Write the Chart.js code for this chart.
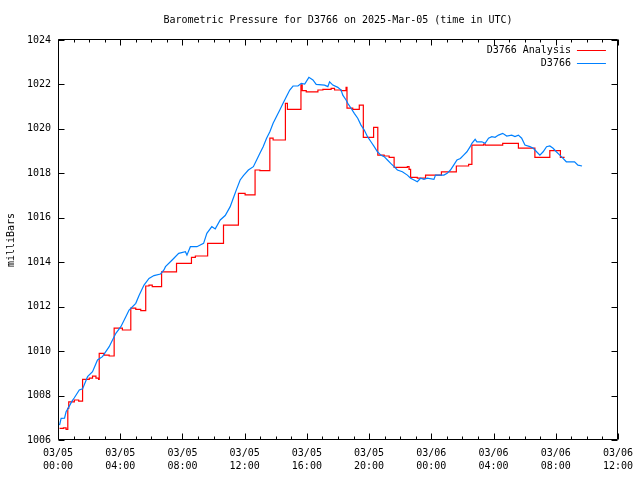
<!DOCTYPE html>
<html lang="en">
<head>
    <meta charset="UTF-8">
    <title>Barometric Pressure for D3766</title>
    <script src="https://cdn.jsdelivr.net/npm/chart.js"></script>
    <style>
        body { margin: 0; background: #fff; }
        #wrap { width: 640px; height: 480px; }
    </style>
</head>
<body>
    <div id="wrap"><canvas id="pressureChart" width="640" height="480"></canvas></div>

    <script>
        // hours since 03/05 00:00 UTC
        const analysisHours = [0.10, 0.35, 0.52, 0.63, 0.69, 1.05, 1.33, 1.58, 2.01, 2.22, 2.44, 2.61, 2.65, 2.97, 3.29, 3.61, 4.14,
            4.68, 5.00, 5.32, 5.64, 5.85, 6.06, 6.66, 7.62, 8.58, 8.83, 9.62, 10.64, 11.60, 12.03, 12.67, 12.98, 13.62, 13.83,
            14.62, 14.75, 15.62, 15.70, 15.96, 16.71, 17.03, 17.56, 17.78, 18.20, 18.52, 18.58, 18.95, 19.37, 19.63, 20.29,
            20.56, 20.97, 21.29, 21.61, 22.46, 22.57, 22.67, 23.10, 23.63, 24.65, 25.61, 26.40, 26.61, 27.36, 27.46, 28.59,
            29.60, 30.66, 31.62, 32.30, 32.57];
        const analysisValues = [1006.52, 1006.55, 1006.48, 1007.42, 1007.72, 1007.80, 1007.75, 1008.73, 1008.78, 1008.87, 1008.78, 1008.73, 1009.90, 1009.82, 1009.78, 1011.03, 1010.95,
            1011.93, 1011.88, 1011.82, 1012.93, 1012.97, 1012.90, 1013.57, 1013.95, 1014.22, 1014.28, 1014.85, 1015.67, 1017.10, 1017.03, 1018.15, 1018.12, 1019.58, 1019.50,
            1021.15, 1020.88, 1021.98, 1021.72, 1021.67, 1021.75, 1021.78, 1021.82, 1021.75, 1021.72, 1021.87, 1020.93, 1020.88, 1021.07, 1019.62, 1020.07,
            1018.82, 1018.78, 1018.72, 1018.27, 1018.30, 1018.18, 1017.82, 1017.78, 1017.92, 1018.07, 1018.33, 1018.40, 1019.27, 1019.32, 1019.27, 1019.35,
            1019.13, 1018.72, 1019.02, 1018.72, 1018.72];

        const stationHours = [0.10, 0.20, 0.42, 0.52, 0.63, 0.90, 1.05, 1.37, 1.58, 1.90, 2.22, 2.54, 2.86, 3.29, 3.72, 4.04, 4.36, 4.57,
            5.00, 5.21, 5.53, 5.85, 6.17, 6.59, 6.81, 6.91, 7.34, 7.76, 8.19, 8.29, 8.51, 8.93, 9.36, 9.57, 9.89, 10.11, 10.43,
            10.75, 11.07, 11.28, 11.49, 11.71, 11.92, 12.24, 12.56, 12.77, 12.98, 13.19, 13.41, 13.62, 13.83, 14.04, 14.26,
            14.47, 14.68, 14.90, 15.11, 15.43, 15.64, 15.86, 16.13, 16.39, 16.60, 17.14, 17.35, 17.46, 17.67, 17.99, 18.20,
            18.31, 18.52, 18.63, 18.84, 19.05, 19.27, 19.48, 19.69, 19.90, 20.12, 20.33, 20.54, 20.75, 20.97, 21.18, 21.39,
            21.61, 21.82, 22.14, 22.46, 22.67, 22.89, 23.10, 23.31, 23.53, 23.74, 24.17, 24.27, 24.81, 25.02, 25.23, 25.44,
            25.65, 25.87, 26.08, 26.29, 26.50, 26.61, 26.82, 26.93, 27.25, 27.46, 27.68, 27.89, 28.10, 28.32, 28.59, 28.85,
            29.17, 29.38, 29.60, 29.81, 30.02, 30.34, 30.56, 30.77, 30.98, 31.19, 31.41, 31.62, 31.83, 32.04, 32.26, 32.47,
            32.68, 33.21, 33.43, 33.69];
        const stationValues = [1006.67, 1006.97, 1006.98, 1007.27, 1007.40, 1007.75, 1007.90, 1008.25, 1008.30, 1008.85, 1009.07, 1009.60, 1009.75, 1010.20, 1010.80, 1011.10, 1011.55, 1011.85,
            1012.15, 1012.50, 1012.97, 1013.27, 1013.40, 1013.47, 1013.65, 1013.80, 1014.10, 1014.40, 1014.47, 1014.32, 1014.70, 1014.70, 1014.85, 1015.30, 1015.60, 1015.50, 1015.90,
            1016.10, 1016.50, 1016.90, 1017.30, 1017.70, 1017.90, 1018.15, 1018.30, 1018.60, 1018.90, 1019.20, 1019.58, 1019.87, 1020.25, 1020.55, 1020.85,
            1021.15, 1021.45, 1021.75, 1021.93, 1021.93, 1022.05, 1022.02, 1022.32, 1022.20, 1022.00, 1021.97, 1021.90, 1022.12, 1021.97, 1021.87, 1021.75,
            1021.52, 1021.30, 1021.15, 1020.93, 1020.70, 1020.48, 1020.17, 1019.95, 1019.65, 1019.42, 1019.20, 1018.97, 1018.82, 1018.75, 1018.60, 1018.45,
            1018.30, 1018.15, 1018.07, 1017.92, 1017.78, 1017.70, 1017.62, 1017.78, 1017.73, 1017.78, 1017.73, 1017.92, 1017.92, 1018.00, 1018.15, 1018.37,
            1018.60, 1018.67, 1018.82, 1018.97, 1019.20, 1019.35, 1019.53, 1019.42, 1019.42, 1019.35, 1019.58, 1019.65, 1019.62, 1019.72, 1019.80, 1019.68,
            1019.72, 1019.65, 1019.72, 1019.58, 1019.27, 1019.20, 1019.13, 1018.97, 1018.82, 1018.97, 1019.20, 1019.23, 1019.13, 1018.97, 1018.82, 1018.67,
            1018.52, 1018.52, 1018.37, 1018.33];

        const xTickLabels = [['03/05', '00:00'], ['03/05', '04:00'], ['03/05', '08:00'], ['03/05', '12:00'], ['03/05', '16:00'],
            ['03/05', '20:00'], ['03/06', '00:00'], ['03/06', '04:00'], ['03/06', '08:00'], ['03/06', '12:00']];
        const seriesNames = ['D3766 Analysis', 'D3766'];
        const seriesColors = ['#ff0000', 'rgb(0,128,255)'];

        const monoFont = { family: "'DejaVu Sans Mono', 'Liberation Mono', monospace", size: 10, lineHeight: 1.3 };

        function toPoints(xs, ys) {
            return xs.map((x, i) => ({ x: x, y: ys[i] }));
        }

        // gnuplot style box with inward ticks + legend at top right
        const gnuFrame = {
            id: 'gnuFrame',
            afterDraw(chart) {
                const ctx = chart.ctx;
                const a = chart.chartArea;
                const xs = chart.scales.x, ys = chart.scales.y;
                const L = Math.round(a.left) + 0.5, R = Math.round(a.right) - 0.5;
                const T = Math.round(a.top) - 0.5, B = Math.round(a.bottom) - 0.5;
                ctx.save();
                ctx.strokeStyle = '#000';
                ctx.lineWidth = 1;
                ctx.beginPath();
                ctx.rect(L, T, R - L, B - T);
                for (let h = 0; h <= 36; h++) {
                    const px = Math.round(xs.getPixelForValue(h)) + 0.5;
                    const len = (h % 4 === 0) ? 6 : 3;
                    ctx.moveTo(px, B); ctx.lineTo(px, B - len);
                    ctx.moveTo(px, T); ctx.lineTo(px, T + len);
                }
                for (let v = 1006; v <= 1024; v += 2) {
                    const py = Math.round(ys.getPixelForValue(v)) + 0.5;
                    ctx.moveTo(L, py); ctx.lineTo(L + 6, py);
                    ctx.moveTo(R, py); ctx.lineTo(R - 6, py);
                }
                ctx.stroke();

                // legend
                ctx.font = "10px 'DejaVu Sans Mono', 'Liberation Mono', monospace";
                ctx.textAlign = 'right';
                ctx.textBaseline = 'middle';
                chart.data.datasets.forEach((ds, i) => {
                    const y = a.top + 10 + i * 13;
                    ctx.fillStyle = '#000';
                    ctx.fillText(ds.label, a.right - 47, y);
                    ctx.strokeStyle = ds.borderColor;
                    ctx.beginPath();
                    ctx.moveTo(a.right - 41, Math.round(y) + 0.5);
                    ctx.lineTo(a.right - 12, Math.round(y) + 0.5);
                    ctx.stroke();
                });
                ctx.restore();
            }
        };

        const ctx = document.getElementById('pressureChart').getContext('2d');
        new Chart(ctx, {
            type: 'line',
            data: {
                datasets: [{
                    label: seriesNames[0],
                    data: toPoints(analysisHours, analysisValues),
                    borderColor: seriesColors[0],
                    borderWidth: 1.2,
                    pointRadius: 0,
                    stepped: true,
                    fill: false,
                    order: 1
                }, {
                    label: seriesNames[1],
                    data: toPoints(stationHours, stationValues),
                    borderColor: seriesColors[1],
                    borderWidth: 1.2,
                    pointRadius: 0,
                    tension: 0,
                    fill: false,
                    order: 0
                }]
            },
            options: {
                responsive: false,
                animation: false,
                devicePixelRatio: 1,
                layout: { padding: { left: 0, right: 18, top: 0, bottom: 0 } },
                plugins: {
                    legend: { display: false },
                    tooltip: { enabled: false },
                    title: {
                        display: true,
                        text: 'Barometric Pressure for D3766 on 2025-Mar-05 (time in UTC)',
                        color: '#000',
                        fullSize: false,
                        font: { family: monoFont.family, size: 10, weight: 'normal', lineHeight: 1.2 },
                        padding: { top: 14, bottom: 14 }
                    }
                },
                scales: {
                    x: {
                        type: 'linear',
                        min: 0,
                        max: 36,
                        grid: { display: false, drawTicks: false },
                        border: { display: false },
                        ticks: {
                            stepSize: 4,
                            autoSkip: false,
                            maxRotation: 0,
                            padding: 7,
                            color: '#000',
                            font: monoFont,
                            callback: (v) => xTickLabels[Math.round(v / 4)]
                        },
                        afterFit: (s) => { s.height = 40; }
                    },
                    y: {
                        min: 1006,
                        max: 1024,
                        grid: { display: false, drawTicks: false },
                        border: { display: false },
                        title: {
                            display: true,
                            text: 'milliBars',
                            color: '#000',
                            font: { family: monoFont.family, size: 10, lineHeight: 1.2 },
                            padding: { top: 5, bottom: 0 }
                        },
                        ticks: {
                            stepSize: 2,
                            padding: 7,
                            color: '#000',
                            font: monoFont,
                            callback: (v) => String(v)
                        },
                        afterFit: (s) => { s.width = 58; }
                    }
                }
            },
            plugins: [gnuFrame]
        });
    </script>
</body>
</html>
